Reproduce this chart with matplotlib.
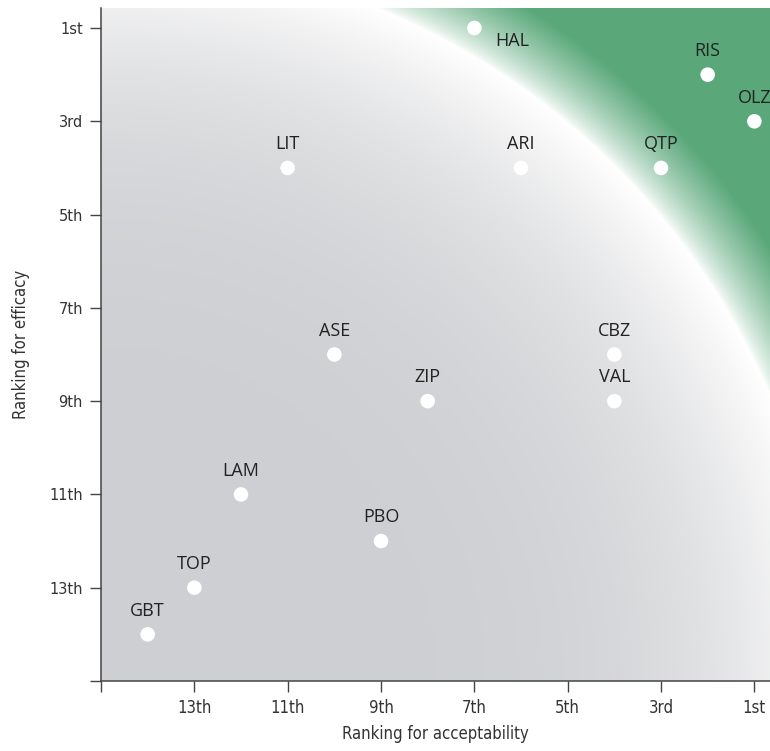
import numpy as np
import matplotlib
matplotlib.use("Agg")
import matplotlib.pyplot as plt

# treatment abbreviations with ranks (acceptability, efficacy)
drugs = ["HAL", "RIS", "OLZ", "QTP", "ARI", "LIT", "ASE", "CBZ",
         "ZIP", "VAL", "LAM", "PBO", "TOP", "GBT"]
rank_accept = [7, 2, 1, 3, 6, 11, 10, 4, 8, 4, 12, 9, 13, 14]
rank_effic = [1, 2, 3, 4, 4, 4, 8, 8, 9, 9, 11, 12, 13, 14]

tick_pos = [13, 11, 9, 7, 5, 3, 1]
tick_lab = ["13th", "11th", "9th", "7th", "5th", "3rd", "1st"]

# limits of the plot area (ranks)
x_lo, x_hi = 15, 0.665
y_lo, y_hi = 15, 0.571

fig = plt.figure(figsize=(7.70, 7.51), dpi=100)
ax = fig.add_axes([101/770, 1-681/751, 1-101/770, (681-8)/751])

# background: radial gray->white, then white->green past the arc
cx, cy, R = 15.0, 15.0, 15.6
xs = np.linspace(x_lo, x_hi, 800)
ys = np.linspace(y_hi, y_lo, 800)
X, Y = np.meshgrid(xs, ys)
r = np.sqrt((X-cx)**2 + (Y-cy)**2)
gray = np.array([206, 207, 210]) / 255.
white = np.array([1.0, 1.0, 1.0])
green = np.array([90, 168, 122]) / 255.
t_in = np.clip(r / R, 0, 1) ** 5
t_out = np.clip((r - R) / 1.5, 0, 1) ** 0.75
img = gray + (white - gray) * t_in[..., None]
img = np.where((r > R)[..., None], white + (green - white) * t_out[..., None], img)
ax.imshow(img, extent=[x_lo, x_hi, y_lo, y_hi], origin="upper",
          aspect="auto", interpolation="bilinear", zorder=0)

ax.scatter(rank_accept, rank_effic, s=110, c="white", edgecolors="none",
           zorder=3, clip_on=False)

lab_font = ["Open Sans", "DejaVu Sans"]
for name, xa, ye in zip(drugs, rank_accept, rank_effic):
    if name == "HAL":
        ax.annotate(name, (xa, ye), xytext=(15, -13), textcoords="offset points",
                    ha="left", va="baseline", fontsize=13, color="#222222",
                    family=lab_font, zorder=4)
    else:
        ax.annotate(name, (xa, ye), xytext=(0, 13.5), textcoords="offset points",
                    ha="center", va="baseline", fontsize=13, color="#222222",
                    family=lab_font, zorder=4)

ax.set_xlim(x_lo, x_hi)
ax.set_ylim(y_lo, y_hi)

ax.set_xticks([15] + tick_pos)
ax.set_xticklabels([""] + tick_lab, family="DejaVu Sans", fontstretch="condensed",
                   fontsize=12, color="#333333")
ax.set_yticks([15] + tick_pos)
ax.set_yticklabels([""] + tick_lab, fontsize=10.5, color="#333333")
ax.tick_params(direction="out", length=8, width=1, color="#444444", pad=5)

for s in ["top", "right"]:
    ax.spines[s].set_visible(False)
for s in ["left", "bottom"]:
    ax.spines[s].set_color("#444444")
    ax.spines[s].set_linewidth(1.1)

ax.set_xlabel("Ranking for acceptability", fontsize=12, color="#333333",
              family="DejaVu Sans", fontstretch="condensed")
ax.set_ylabel("Ranking for efficacy", fontsize=12, color="#333333",
              family="DejaVu Sans", fontstretch="condensed")
ax.xaxis.set_label_coords(0.5, -0.066)
ax.yaxis.set_label_coords(-0.106, 0.5)

fig.savefig("out.png", dpi=100)
